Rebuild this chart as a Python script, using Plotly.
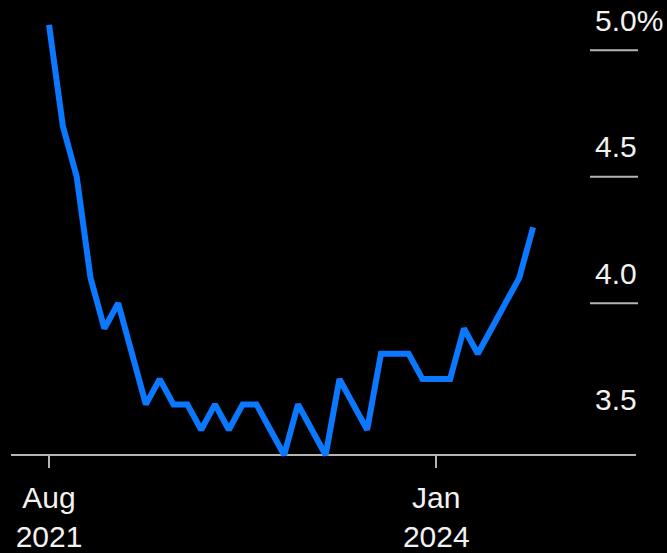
import plotly.graph_objects as go

# Monthly unemployment rate, Aug 2021 - Jul 2024
months = ["2021-08", "2021-09", "2021-10", "2021-11", "2021-12",
          "2022-01", "2022-02", "2022-03", "2022-04", "2022-05", "2022-06",
          "2022-07", "2022-08", "2022-09", "2022-10", "2022-11", "2022-12",
          "2023-01", "2023-02", "2023-03", "2023-04", "2023-05", "2023-06",
          "2023-07", "2023-08", "2023-09", "2023-10", "2023-11", "2023-12",
          "2024-01", "2024-02", "2024-03", "2024-04", "2024-05", "2024-06",
          "2024-07"]
rate = [5.1, 4.7, 4.5, 4.1, 3.9,
        4.0, 3.8, 3.6, 3.7, 3.6, 3.6,
        3.5, 3.6, 3.5, 3.6, 3.6, 3.5,
        3.4, 3.6, 3.5, 3.4, 3.7, 3.6,
        3.5, 3.8, 3.8, 3.8, 3.7, 3.7,
        3.7, 3.9, 3.8, 3.9, 4.0, 4.1,
        4.3]

x_tick_pos = [0, 28]
x_tick_text = ["Aug<br>2021", "Jan<br>2024"]
y_tick_vals = [3.5, 4.0, 4.5, 5.0]
y_tick_text = ["3.5", "4.0", "4.5", "5.0%"]
grid_vals = [4.0, 4.5, 5.0]

GRAY = "#b4b4b4"
TEXT = "#f2f2f2"
BLUE = "#0a78ff"
FONT = "Liberation Sans, Arial, sans-serif"

W, H = 667, 553
ML, MR, MT, MB = 11, 31, 20, 90
plot_h = H - MT - MB
px_per_unit = 253.0
y_base = 3.4
base_px_from_bottom = 8
y_lo = y_base - base_px_from_bottom / px_per_unit
y_hi = y_lo + plot_h / px_per_unit

fig = go.Figure(
    go.Scatter(
        x=list(range(len(rate))),
        y=rate,
        mode="lines",
        line=dict(color=BLUE, width=6),
        hoverinfo="skip",
    )
)

plot_w = W - ML - MR
for v in grid_vals:
    fig.add_shape(
        type="line", xref="paper", yref="y",
        x0=(590 - ML) / plot_w, x1=(638 - ML) / plot_w,
        y0=v, y1=v,
        line=dict(color=GRAY, width=2),
        layer="below",
    )

fig.update_layout(
    width=W, height=H,
    margin=dict(l=ML, r=MR, t=MT, b=MB, autoexpand=False),
    paper_bgcolor="black",
    plot_bgcolor="black",
    showlegend=False,
    font=dict(family=FONT, color=TEXT, size=30),
    xaxis=dict(
        range=[-2.75, 42.44],
        tickmode="array",
        tickvals=x_tick_pos,
        ticktext=x_tick_text,
        ticks="outside",
        ticklen=12,
        tickwidth=2,
        tickcolor=GRAY,
        showline=True,
        linecolor=GRAY,
        linewidth=2,
        showgrid=False,
        zeroline=False,
        anchor="free",
        position=base_px_from_bottom / plot_h,
        automargin=False,
        ticklabelstandoff=4,
        tickfont=dict(size=30, color=TEXT, family=FONT),
        layer="below traces",
    ),
    yaxis=dict(
        range=[y_lo, y_hi],
        tickmode="array",
        tickvals=y_tick_vals,
        ticktext=y_tick_text,
        ticks="",
        ticklen=0,
        showgrid=False,
        zeroline=False,
        showline=False,
        side="right",
        anchor="free",
        position=(594 - ML) / plot_w,
        automargin=False,
        ticklabelshift=-30,
        tickfont=dict(size=30, color=TEXT, family=FONT),
    ),
)

fig.write_html("out.html")
